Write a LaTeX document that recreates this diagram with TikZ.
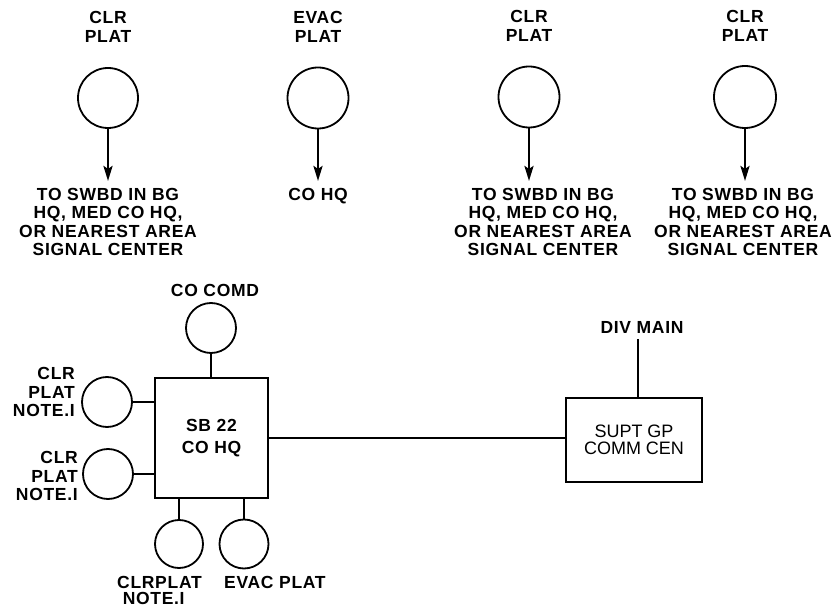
\documentclass[tikz,border=0pt]{standalone}
\usepackage{fontspec}
\setmainfont{Liberation Sans}
\newfontfamily\lblfont[LetterSpace=4]{Liberation Sans Bold}
\usetikzlibrary{arrows.meta}
\begin{document}
\begin{tikzpicture}[x=1pt,y=-1pt,
  lbl/.style={font=\fontsize{17.5}{18.5}\selectfont\lblfont, align=center, inner sep=0pt},
  circ/.style={circle, draw, line width=1.8pt, inner sep=0pt},
  boxn/.style={draw, line width=2pt, inner sep=0pt},
  wire/.style={line width=2.6pt},
  arr/.style={line width=2.6pt, shorten >=7pt, -{Stealth[length=15pt,width=9pt,inset=3pt]}}]
\useasboundingbox (0,0) rectangle (838,609);
% top row
\node[lbl] (l1) at (108,27) {CLR\\PLAT};
\node[circ, minimum size=60pt] (c1) at (108,98) {};
\node[lbl, anchor=north] (t1) at (108,188) {TO SWBD IN BG\\HQ, MED CO HQ,\\OR NEAREST AREA\\SIGNAL CENTER};
\draw[arr] (c1.south) -- (c1.south |- t1.north);

\node[lbl] (l2) at (318,27) {EVAC\\PLAT};
\node[circ, minimum size=61pt] (c2) at (318,98) {};
\node[lbl, anchor=north] (t2) at (318,188) {CO HQ};
\draw[arr] (c2.south) -- (c2.south |- t2.north);

\node[lbl] (l3) at (529,26) {CLR\\PLAT};
\node[circ, minimum size=61pt] (c3) at (529,97) {};
\node[lbl, anchor=north] (t3) at (543,188) {TO SWBD IN BG\\HQ, MED CO HQ,\\OR NEAREST AREA\\SIGNAL CENTER};
\draw[arr] (c3.south) -- (c3.south |- t3.north);

\node[lbl] (l4) at (745,26) {CLR\\PLAT};
\node[circ, minimum size=62pt] (c4) at (745,97) {};
\node[lbl, anchor=north] (t4) at (743,188) {TO SWBD IN BG\\HQ, MED CO HQ,\\OR NEAREST AREA\\SIGNAL CENTER};
\draw[arr] (c4.south) -- (c4.south |- t4.north);

% bottom left group
\node[boxn, minimum width=113pt, minimum height=120pt, lbl, font=\fontsize{17.5}{22}\selectfont\lblfont] (sb) at (211.5,438) {SB 22\\CO HQ};
\node[lbl] (lcc) at (215,290) {CO COMD};
\node[circ, minimum size=50pt] (cc) at (211,328) {};
\draw[wire] (cc.south) -- (cc.south |- sb.north);

\node[circ, minimum size=50pt] (cl1) at (107,402) {};
\node[lbl, align=right, anchor=east] (ll1) at (75,392) {CLR\\PLAT\\NOTE.I};
\draw[wire] (cl1.east) -- (cl1.east -| sb.west);

\node[circ, minimum size=50pt] (cl2) at (108,474) {};
\node[lbl, align=right, anchor=east] (ll2) at (78,476) {CLR\\PLAT\\NOTE.I};
\draw[wire] (cl2.east) -- (cl2.east -| sb.west);

\node[circ, minimum size=48pt] (cb1) at (179,544) {};
\node[circ, minimum size=49pt] (cb2) at (244,544) {};
\draw[wire] (cb1.north) -- (cb1.north |- sb.south);
\draw[wire] (cb2.north) -- (cb2.north |- sb.south);
\node[lbl, align=left, anchor=north west, font=\fontsize{17.5}{16.5}\selectfont\lblfont] (lb1) at (117,576) {CLRPLAT\\\ NOTE.I};
\node[lbl, anchor=north west] (lb2) at (224,576) {EVAC PLAT};

% right group
\node[boxn, minimum width=136pt, minimum height=84pt, align=center,
      font=\fontsize{18}{17}\selectfont] (supt) at (634,440) {SUPT GP\\COMM CEN};
\draw[wire] (sb.east |- 0,438) -- (supt.west |- 0,438);
\node[lbl] (ldm) at (642,327) {DIV MAIN};
\coordinate (dm) at (638,339);
\draw[wire] (dm) -- (dm |- supt.north);
\end{tikzpicture}
\end{document}
